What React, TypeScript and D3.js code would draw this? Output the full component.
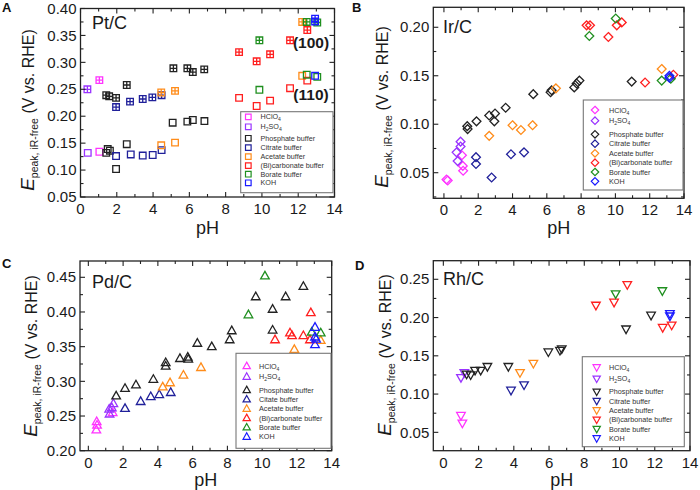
import React from "react";
import * as d3 from "d3";

const FONT = "'Liberation Sans', Arial, Helvetica, sans-serif";

// ---------- legend / series ----------
const seriesNames = ["HClO4", "H2SO4", "Phosphate buffer", "Citrate buffer", "Acetate buffer", "(Bi)carbonate buffer", "Borate buffer", "KOH"];
const seriesNamesPd = ["HClO4", "H2SO4", "Phosphate buffer", "Citate buffer", "Acetate buffer", "(Bi)carbonate buffer", "Borate buffer", "KOH"];
const seriesColors = ["#ff33ff", "#9933ff", "#222222", "#20209a", "#ff8c1a", "#ff1f1f", "#1f8f1f", "#1a1aff"];
const xTickValues = [0, 2, 4, 6, 8, 10, 12, 14];

// ---------- A: Pt/C  (100) hatched, (110) open ----------
const ptHClO4_100 = [[1.04, 0.267]];
const ptH2SO4_100 = [[0.38, 0.250]];
const ptPhos_100 = [[1.42, 0.239], [1.58, 0.237], [1.96, 0.234], [2.55, 0.258], [5.12, 0.289], [5.89, 0.289], [6.19, 0.282], [6.82, 0.287]];
const ptCitrate_100 = [[1.96, 0.217], [2.73, 0.227], [3.43, 0.232], [3.96, 0.235], [4.47, 0.239]];
const ptAcetate_100 = [[4.45, 0.244], [5.21, 0.247], [12.22, 0.375]];
const ptCarb_100 = [[8.74, 0.319], [9.71, 0.302], [10.45, 0.315], [11.55, 0.341], [12.5, 0.360]];
const ptBorate_100 = [[9.86, 0.341], [12.47, 0.375], [13.05, 0.374]];
const ptKOH_100 = [[12.93, 0.381], [12.93, 0.376]];

const ptHClO4_110 = [[1.04, 0.134]];
const ptH2SO4_110 = [[0.40, 0.132]];
const ptPhos_110 = [[1.42, 0.132], [1.5, 0.139], [1.62, 0.136], [1.96, 0.102], [2.55, 0.148], [5.08, 0.188], [5.89, 0.190], [6.19, 0.193], [6.83, 0.191]];
const ptCitrate_110 = [[1.96, 0.126], [2.77, 0.129], [3.43, 0.127], [3.98, 0.128], [4.47, 0.137]];
const ptAcetate_110 = [[4.45, 0.146], [5.21, 0.151], [12.22, 0.275]];
const ptCarb_110 = [[8.74, 0.234], [9.71, 0.219], [10.45, 0.229], [11.55, 0.252], [12.5, 0.266]];
const ptBorate_110 = [[9.86, 0.249], [12.47, 0.277], [13.05, 0.273]];
const ptKOH_110 = [[12.93, 0.275]];

// ---------- B: Ir/C ----------
const irHClO4 = [[0.15, 0.043], [0.22, 0.042], [1.05, 0.068], [1.1, 0.057], [1.12, 0.052]];
const irH2SO4 = [[0.74, 0.071], [0.8, 0.062], [0.97, 0.082], [0.97, 0.077]];
const irPhos = [[1.36, 0.098], [1.38, 0.095], [1.9, 0.103], [2.64, 0.109], [2.94, 0.103], [2.98, 0.111], [3.6, 0.117], [5.21, 0.131], [6.22, 0.133], [6.28, 0.135], [7.6, 0.138], [7.74, 0.142], [7.9, 0.145], [10.95, 0.144]];
const irCitrate = [[1.87, 0.066], [1.87, 0.059], [2.78, 0.045], [3.91, 0.069], [4.67, 0.071]];
const irAcetate = [[2.64, 0.088], [4.0, 0.099], [4.49, 0.094], [5.17, 0.099], [6.53, 0.137], [12.7, 0.157]];
const irCarb = [[8.32, 0.202], [8.52, 0.202], [9.59, 0.190], [10.08, 0.202], [10.37, 0.205], [11.73, 0.143], [13.38, 0.151]];
const irBorate = [[8.48, 0.191], [10.02, 0.209], [12.7, 0.145], [13.23, 0.147]];
const irKOH = [[13.15, 0.150], [13.15, 0.148]];

// ---------- C: Pd/C ----------
const pdHClO4 = [[0.48, 0.242], [0.5, 0.237], [0.46, 0.230], [1.4, 0.255]];
const pdH2SO4 = [[1.2, 0.260], [1.22, 0.253], [1.35, 0.262], [1.44, 0.268]];
const pdPhos = [[1.6, 0.279], [2.11, 0.290], [2.74, 0.295], [3.74, 0.303], [4.45, 0.327], [4.45, 0.322], [5.27, 0.333], [5.72, 0.335], [5.75, 0.332], [6.27, 0.355], [7.1, 0.350], [8.13, 0.360], [8.25, 0.373], [9.63, 0.422], [10.6, 0.404], [10.6, 0.374], [11.35, 0.422], [12.37, 0.437]];
const pdCitrate = [[2.11, 0.261], [3.01, 0.271], [3.59, 0.278], [4.08, 0.281], [4.74, 0.284]];
const pdAcetate = [[4.28, 0.292], [4.7, 0.298], [5.47, 0.309], [6.48, 0.320], [11.85, 0.346], [13.37, 0.359]];
const pdCarb = [[10.74, 0.360], [11.6, 0.370], [11.72, 0.366], [12.37, 0.366], [12.8, 0.399], [12.75, 0.360]];
const pdBorate = [[9.21, 0.396], [10.16, 0.452], [12.85, 0.371], [13.37, 0.370]];
const pdKOH = [[13.04, 0.378], [13.04, 0.364], [13.04, 0.353], [13.1, 0.361]];

// ---------- D: Rh/C ----------
const rhHClO4 = [[1.0, 0.072], [1.08, 0.062]];
const rhH2SO4 = [[1.0, 0.1215], [1.19, 0.128]];
const rhPhos = [[1.32, 0.126], [1.55, 0.125], [1.8, 0.131], [2.12, 0.131], [2.5, 0.136], [3.69, 0.136], [5.96, 0.155], [6.62, 0.157], [6.72, 0.159], [10.37, 0.185], [11.79, 0.203]];
const rhCitrate = [[3.84, 0.105], [4.58, 0.112]];
const rhAcetate = [[4.35, 0.128], [5.11, 0.140]];
const rhCarb = [[8.66, 0.216], [9.69, 0.220], [10.44, 0.243], [12.45, 0.187], [12.96, 0.190]];
const rhBorate = [[9.78, 0.231], [12.43, 0.235]];
const rhKOH = [[12.86, 0.205], [12.86, 0.202]];

// ---------- layout ----------
const panels = [
  {
    letter: "A", letterPos: [2, 12], title: "Pt/C", titlePos: [92, 29],
    left: 80.5, right: 334.5, top: 8.5, bottom: 197,
    xDomain: [0, 14], yDomain: [0.05, 0.40], yTicks: [0.05, 0.10, 0.15, 0.20, 0.25, 0.30, 0.35, 0.40],
    yTitle: [34, 110], pHy: 234,
    groups: [
      { marker: "squareX", data: [ptHClO4_100, ptH2SO4_100, ptPhos_100, ptCitrate_100, ptAcetate_100, ptCarb_100, ptBorate_100, ptKOH_100] },
      { marker: "square", data: [ptHClO4_110, ptH2SO4_110, ptPhos_110, ptCitrate_110, ptAcetate_110, ptCarb_110, ptBorate_110, ptKOH_110] },
    ],
    legendMarker: "square", names: seriesNames,
    legend: { x0: 240.7, x1: 333, y0: 111.7, y1: 192.7, mx: 248.3, tx: 260.5, rows: [116.9, 126.8, 138.3, 147.6, 156.6, 165.6, 174.2, 182.8] },
    notes: [{ t: "(100)", x: 311, y: 48 }, { t: "(110)", x: 311, y: 100 }],
  },
  {
    letter: "B", letterPos: [352, 12], title: "Ir/C", titlePos: [443, 33],
    left: 433.3, right: 684, top: 7.3, bottom: 198.3,
    xDomain: [-0.62, 14], yDomain: [0.0236, 0.2206], yTicks: [0.05, 0.10, 0.15, 0.20],
    yTitle: [388, 107], pHy: 234,
    groups: [{ marker: "diamond", data: [irHClO4, irH2SO4, irPhos, irCitrate, irAcetate, irCarb, irBorate, irKOH] }],
    legendMarker: "diamond", names: seriesNames,
    legend: { x0: 583.3, x1: 683, y0: 100, y1: 190, mx: 595, tx: 609, rows: [110, 120.7, 134.3, 143.7, 153.3, 162.7, 172, 181.3] },
    notes: [],
  },
  {
    letter: "C", letterPos: [2, 268], title: "Pd/C", titlePos: [92, 288],
    left: 80, right: 331.7, top: 261, bottom: 450.7,
    xDomain: [-0.48, 14], yDomain: [0.20, 0.4735], yTicks: [0.20, 0.25, 0.30, 0.35, 0.40, 0.45],
    yTitle: [37, 356], pHy: 486,
    groups: [{ marker: "triUp", data: [pdHClO4, pdH2SO4, pdPhos, pdCitrate, pdAcetate, pdCarb, pdBorate, pdKOH] }],
    legendMarker: "triUp", names: seriesNamesPd,
    legend: { x0: 236, x1: 331, y0: 353.3, y1: 448.3, mx: 246.7, tx: 259, rows: [366, 376.7, 390, 399.3, 408.7, 418, 427.3, 436.7] },
    notes: [],
  },
  {
    letter: "D", letterPos: [355, 270], title: "Rh/C", titlePos: [443, 285],
    left: 433.3, right: 690, top: 260.7, bottom: 450.7,
    xDomain: [-0.57, 14], yDomain: [0.026, 0.2743], yTicks: [0.05, 0.10, 0.15, 0.20, 0.25],
    yTitle: [391, 355], pHy: 486,
    groups: [{ marker: "triDown", data: [rhHClO4, rhH2SO4, rhPhos, rhCitrate, rhAcetate, rhCarb, rhBorate, rhKOH] }],
    legendMarker: "triDown", names: seriesNames,
    legend: { x0: 582.3, x1: 684.3, y0: 356.7, y1: 446.7, mx: 596.7, tx: 609, rows: [367.3, 378.7, 391.7, 401, 410.3, 419.7, 429, 438.3] },
    notes: [],
  },
];

function markerPath(type: string, k = 1): string {
  if (type === "square" || type === "squareX") {
    const s = 6.6 * k, h = s / 2;
    let d = `M${-h},${-h}h${s}v${s}h${-s}Z`;
    if (type === "squareX") d += `M${-h},0h${s}M0,${-h}v${s}`;
    return d;
  }
  if (type === "diamond") {
    const r = 4.4 * k;
    return `M0,${-r}L${r},0L0,${r}L${-r},0Z`;
  }
  const w = 8.6 * k, hh = 7.6 * k;
  if (type === "triUp") return `M0,${-hh * 0.6}L${w / 2},${hh * 0.4}L${-w / 2},${hh * 0.4}Z`;
  return `M0,${hh * 0.6}L${w / 2},${-hh * 0.4}L${-w / 2},${-hh * 0.4}Z`;
}

function Chem({ name, size }: { name: string; size: number }) {
  if (name === "HClO4")
    return (<>HClO<tspan fontSize={size * 0.7} dy={2}>4</tspan></>);
  if (name === "H2SO4")
    return (<>H<tspan fontSize={size * 0.7} dy={2}>2</tspan><tspan dy={-2}>SO</tspan><tspan fontSize={size * 0.7} dy={2}>4</tspan></>);
  return <>{name}</>;
}

function Panel({ p }: { p: any }) {
  const x = d3.scaleLinear().domain(p.xDomain).range([p.left, p.right]);
  const y = d3.scaleLinear().domain(p.yDomain).range([p.bottom, p.top]);
  const axisColor = "#222";
  const xMinor = d3.range(0, 15, 1).filter((v) => v % 2 !== 0 && v >= p.xDomain[0] && v <= p.xDomain[1]);
  const yMinor = d3.range(0.025, 0.5, 0.05).map((v) => +v.toFixed(3)).filter((v) => v >= p.yDomain[0] && v <= p.yDomain[1]);
  const M = 5, m = 3;
  return (
    <g>
      {p.groups.map((g: any, gi: number) =>
        g.data.map((series: number[][], si: number) =>
          series.map((d, i) => (
            <path key={`${gi}-${si}-${i}`} d={markerPath(g.marker)} transform={`translate(${x(d[0])},${y(d[1])})`}
              fill="none" stroke={seriesColors[si]} strokeWidth={1.3} />
          ))
        )
      )}
      <rect x={p.left} y={p.top} width={p.right - p.left} height={p.bottom - p.top} fill="none" stroke={axisColor} strokeWidth={1.3} />
      {xTickValues.map((v) => (
        <g key={"xt" + v}>
          <line x1={x(v)} x2={x(v)} y1={p.bottom} y2={p.bottom - M} stroke={axisColor} strokeWidth={1.1} />
          <line x1={x(v)} x2={x(v)} y1={p.top} y2={p.top + M} stroke={axisColor} strokeWidth={1.1} />
          <text x={x(v)} y={p.bottom + 17} textAnchor="middle" fontSize={15} fill="#1a1a1a">{v}</text>
        </g>
      ))}
      {xMinor.map((v) => (
        <g key={"xm" + v}>
          <line x1={x(v)} x2={x(v)} y1={p.bottom} y2={p.bottom - m} stroke={axisColor} strokeWidth={1.1} />
          <line x1={x(v)} x2={x(v)} y1={p.top} y2={p.top + m} stroke={axisColor} strokeWidth={1.1} />
        </g>
      ))}
      {p.yTicks.map((v: number) => (
        <g key={"yt" + v}>
          <line x1={p.left} x2={p.left + M} y1={y(v)} y2={y(v)} stroke={axisColor} strokeWidth={1.1} />
          <line x1={p.right} x2={p.right - M} y1={y(v)} y2={y(v)} stroke={axisColor} strokeWidth={1.1} />
          <text x={p.left - 4} y={y(v) + 5.2} textAnchor="end" fontSize={15} fill="#1a1a1a">{v.toFixed(2)}</text>
        </g>
      ))}
      {yMinor.map((v: number) => (
        <g key={"ym" + v}>
          <line x1={p.left} x2={p.left + m} y1={y(v)} y2={y(v)} stroke={axisColor} strokeWidth={1.1} />
          <line x1={p.right} x2={p.right - m} y1={y(v)} y2={y(v)} stroke={axisColor} strokeWidth={1.1} />
        </g>
      ))}
      <text x={(p.left + p.right) / 2} y={p.pHy} textAnchor="middle" fontSize={18} fill="#1a1a1a">pH</text>
      <text transform={`translate(${p.yTitle[0]},${p.yTitle[1]}) rotate(-90)`} textAnchor="middle" fill="#1a1a1a" fontSize={16}>
        <tspan fontStyle="italic" fontSize={19}>E</tspan>
        <tspan fontSize={10.5} dy={4}>peak, iR-free</tspan>
        <tspan dy={-4}> (V vs. RHE)</tspan>
      </text>
      <text x={p.titlePos[0]} y={p.titlePos[1]} fontSize={18} fill="#1a1a1a">{p.title}</text>
      <text x={p.letterPos[0]} y={p.letterPos[1]} fontSize={13} fontWeight="bold" fill="#111">{p.letter}</text>
      {p.notes.map((n: any) => (
        <text key={n.t} x={n.x} y={n.y} textAnchor="middle" fontSize={15.5} fontWeight="bold" fill="#1a1a1a">{n.t}</text>
      ))}
      <rect x={p.legend.x0} y={p.legend.y0} width={p.legend.x1 - p.legend.x0} height={p.legend.y1 - p.legend.y0}
        fill="#fff" stroke="#777" strokeWidth={1.1} />
      {p.names.map((nm: string, i: number) => (
        <g key={"lg" + i}>
          <path d={markerPath(p.legendMarker, 0.85)} transform={`translate(${p.legend.mx},${p.legend.rows[i]})`}
            fill="none" stroke={seriesColors[i]} strokeWidth={1.2} />
          <text x={p.legend.tx} y={p.legend.rows[i] + 2.5} fontSize={7.2} fill="#333"><Chem name={nm} size={7.2} /></text>
        </g>
      ))}
    </g>
  );
}

export default function App() {
  return (
    <svg width={700} height={490} viewBox="0 0 700 490" style={{ position: "absolute", left: 0, top: 0, background: "#fff" }}
      fontFamily={FONT}>
      <rect x={0} y={0} width={700} height={490} fill="#fff" />
      {panels.map((p) => <Panel key={p.letter} p={p} />)}
    </svg>
  );
}
